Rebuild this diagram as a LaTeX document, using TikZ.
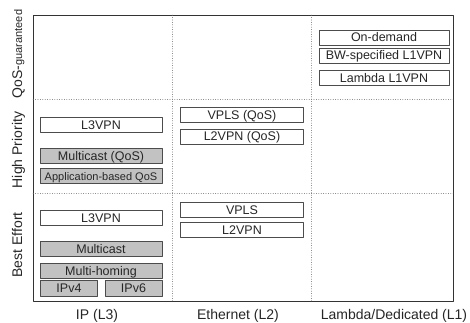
\documentclass[tikz,border=0pt]{standalone}
\usepackage{fontspec}
\setmainfont{Liberation Sans}
\begin{document}
\begin{tikzpicture}[x=1pt,y=-1pt, line join=round, line cap=round,
	box/.style={draw=black!70, line width=0.6pt, inner sep=0pt, minimum height=15pt, text height=9pt, text depth=0pt, font=\fontsize{12.5}{12.5}\selectfont, text=black!85},
	shade/.style={box, fill=black!24},
	lab/.style={font=\fontsize{14}{14}\selectfont, inner sep=0pt, text height=10pt, text depth=0pt, text=black!85}]
			\useasboundingbox (0,0) rectangle (470,323);
			\path
			(33,15)coordinate(NW)
			(453,301)coordinate(SE)
			(172,15)coordinate(C1)
			(311,15)coordinate(C2)
			(33,99)coordinate(R1)
			(33,193)coordinate(R2)
			;
			\draw[black!80, line width=0.8pt] (NW) rectangle (SE);
			\draw[dotted, black!55] (C1)--(C1|-SE) (C2)--(C2|-SE) (R1)--(R1-|SE) (R2)--(R2-|SE);
			% IP (L3)
			\foreach \n/\y/\t/\s in {hL3/124.5/L3VPN/box, hMc/155.5/Multicast (QoS)/shade, bL3/217.5/L3VPN/box, bMc/248.5/Multicast/shade, bMh/270.5/Multi-homing/shade}
			\node[\s, minimum width=122pt] (\n) at (101,\y) {\t};
			\node[shade, minimum width=122pt, font=\fontsize{11}{11}\selectfont] (hApp) at (101,176) {Application-based QoS};
			\foreach \n/\x in {IPv4/69, IPv6/133.5} \node[shade, minimum width=57pt, minimum height=16pt] (\n) at (\x,288) {\n};
			% Ethernet (L2)
			\foreach \n/\y/\t in {hVPLS/115/VPLS (QoS), hL2/136.5/L2VPN (QoS), bVPLS/210/VPLS, bL2/230/L2VPN}
			\node[box, minimum width=123pt] (\n) at (242,\y) {\t};
			% Lambda (L1)
			\foreach \n/\y/\t in {od/37.5/On-demand, bw/55.5/BW-specified L1VPN, lam/78/Lambda L1VPN}
			\node[box, minimum width=130pt] (\n) at (384,\y) {\t};
			% axis labels
			\node[lab] (ip) at (97,314) {IP (L3)};
			\node[lab] (eth) at (238,314) {Ethernet (L2)};
			\node[lab] (ded) at (394,314) {Lambda/Dedicated (L1)};
			\node[lab, rotate=90] (qos) at (17,54) {QoS-{\fontsize{11}{11}\selectfont guaranteed}};
			\node[lab, rotate=90] (hp) at (17,150) {High Priority};
			\node[lab, rotate=90] (be) at (17,245) {Best Effort};
\end{tikzpicture}
\end{document}
